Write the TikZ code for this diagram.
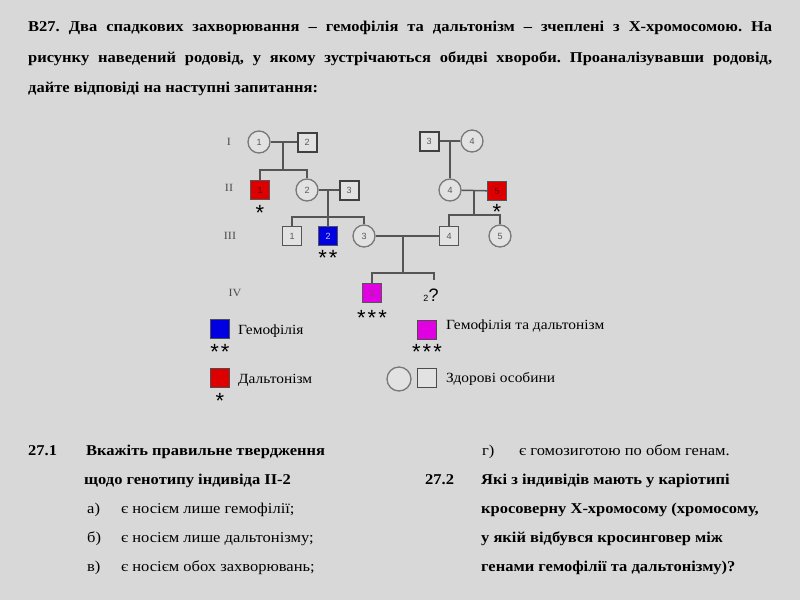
\documentclass[tikz,border=0pt]{standalone}
\usepackage{fontspec}
\setmainfont[FakeStretch=1.1]{Liberation Serif}
\newfontfamily\numfont{Liberation Sans}
\frenchspacing

\definecolor{bggray}{RGB}{216,216,216}
\definecolor{boxgray}{RGB}{226,226,226}
\definecolor{linegray}{RGB}{85,85,85}
\definecolor{circgray}{RGB}{120,120,120}
\definecolor{hemored}{RGB}{222,0,0}
\definecolor{hemoblue}{RGB}{0,0,225}
\definecolor{hemomag}{RGB}{225,0,225}

\tikzset{
  sq/.style={draw=linegray, fill=boxgray, line width=1pt, minimum size=19pt,
    inner sep=0pt, text=black!65, font=\numfont\fontsize{9}{9}\selectfont},
  sqthick/.style={sq, line width=2pt, draw=black!75},
  circ/.style={circle, draw=circgray, fill=boxgray, line width=1.3pt,
    minimum size=22pt, inner sep=0pt, text=black!65,
    font=\numfont\fontsize{9}{9}\selectfont},
  link/.style={draw=linegray, line width=1.5pt},
  genlbl/.style={font=\fontsize{11}{11}\selectfont, text=black!70},
  starlbl/.style={anchor=base, inner sep=0pt, yshift=-10.5pt,
    font=\numfont\fontsize{22}{22}\selectfont},
  hd/.style={anchor=base west, inner sep=0pt,
    font=\bfseries\fontsize{15}{15}\selectfont},
  txt/.style={anchor=base west, inner sep=0pt, font=\fontsize{15}{15}\selectfont},
  txtb/.style={txt, font=\bfseries\fontsize{15}{15}\selectfont},
  leg/.style={anchor=base west, inner sep=0pt, font=\fontsize{14}{14}\selectfont},
}

\begin{document}
\begin{tikzpicture}[x=1pt, y=-1pt]
  \fill[bggray] (0,0) rectangle (800,600);
  \useasboundingbox (0,0) rectangle (800,600);

  % task text
  \node[hd] (title1) at (28,31) {\makebox[744pt][s]{B27. Два спадкових захворювання – гемофілія та дальтонізм – зчеплені з Х-хромосомою. На}};
  \node[hd] (title2) at (28,62) {\makebox[744pt][s]{рисунку наведений родовід, у якому зустрічаються обидві хвороби. Проаналізувавши родовід,}};
  \node[hd] (title3) at (28,92) {дайте відповіді на наступні запитання:};

  % generations
  \node[genlbl] (gI) at (229,142) {I};
  \node[genlbl] (gII) at (229,188) {II};
  \node[genlbl] (gIII) at (230,236) {III};
  \node[genlbl] (gIV) at (235,293) {IV};

  % left family
  \node[circ] (p11) at (259,142) {1};
  \node[sqthick] (p12) at (307,142) {2};
  \node[sq, fill=hemored, text=red!35!black] (p21) at (260,190) {1};
  \node[circ] (p22) at (307,190) {2};
  \node[sqthick] (p23) at (349,190) {3};

  % right family
  \node[sqthick] (p13) at (429,141) {3};
  \node[circ] (p14) at (472,141) {4};
  \node[circ] (p24) at (450,190) {4};
  \node[sq, fill=hemored, text=red!35!black] (p25) at (497,191) {5};

  % generation III
  \node[sq] (p31) at (292,236) {1};
  \node[sq, fill=hemoblue, text=white!80!blue] (p32) at (328,236) {2};
  \node[circ] (p33) at (364,236) {3};
  \node[sq] (p34) at (449,236) {4};
  \node[circ] (p35) at (500,236) {5};

  % generation IV
  \node[sq, fill=hemomag, text=magenta!40!black] (p41) at (372,293) {1};
  \node[anchor=base, inner sep=0pt] (p42) at (431,301)
    {{\numfont\fontsize{9}{9}\selectfont 2}{\numfont\fontsize{18}{18}\selectfont ?}};
  \coordinate (c42) at (434,280);

  % marriages and sibships
  \coordinate (m1) at (283,142);
  \coordinate (s1) at (283,170);
  \draw[link] (p11) -- (p12);
  \draw[link] (m1) -- (s1);
  \draw[link] (p21.north) |- (s1) -| (p22.north);

  \coordinate (m2) at (328,190);
  \coordinate (s2) at (328,217);
  \draw[link] (p22) -- (p23);
  \draw[link] (m2) -- (p32.north);
  \draw[link] (p31.north) |- (s2) -| (p33.north);

  \coordinate (m3) at (450,141);
  \draw[link] (p13) -- (p14);
  \draw[link] (m3) -- (p24.north);

  \coordinate (m4) at (474,190);
  \coordinate (s4) at (474,215);
  \draw[link] (p24) -- (p25);
  \draw[link] (m4) -- (s4);
  \draw[link] (p34.north) |- (s4) -| (p35.north);

  \coordinate (m5) at (403,236);
  \coordinate (s5) at (403,273);
  \draw[link] (p33) -- (p34);
  \draw[link] (m5) -- (s5);
  \draw[link] (p41.north) |- (s5) -| (c42);

  % stars
  \node[starlbl] (st21) at (260,210) {*};
  \node[starlbl] (st25) at (497,209) {*};
  \node[starlbl] (st32) at (328,255) {*\kern2pt*};
  \node[starlbl] (st41) at (372,315) {*\kern2pt*\kern2pt*};

  % legend
  \node[sq, fill=hemoblue, draw=black!70] (lgb) at (220,329) {};
  \node[leg] (lgbt) at (238,334) {Гемофілія};
  \node[starlbl] (lgbs) at (220,349) {*\kern2pt*};
  \node[sq, fill=hemored, draw=black!70] (lgr) at (220,378) {};
  \node[leg] (lgrt) at (238,383) {Дальтонізм};
  \node[starlbl] (lgrs) at (220,398) {*};
  \node[sq, fill=hemomag, draw=black!70] (lgm) at (427,330) {};
  \node[leg] (lgmt) at (446,329) {Гемофілія та дальтонізм};
  \node[starlbl] (lgms) at (427,349) {*\kern2pt*\kern2pt*};
  \node[circ, minimum size=24pt] (lgc) at (399,379) {};
  \node[sq, draw=black!70] (lgs) at (427,378) {};
  \node[leg] (lgst) at (446,382) {Здорові особини};

  % questions
  \node[txtb] (q1n) at (28,455) {27.1};
  \node[txtb] (q1a) at (86,455) {Вкажіть правильне твердження};
  \node[txtb] (q1b) at (84,484) {щодо генотипу індивіда II-2};
  \node[txt] (o1l) at (87,513) {а)};
  \node[txt] (o1t) at (121,513) {є носієм лише гемофілії;};
  \node[txt] (o2l) at (87,542) {б)};
  \node[txt] (o2t) at (121,542) {є носієм лише дальтонізму;};
  \node[txt] (o3l) at (87,571) {в)};
  \node[txt] (o3t) at (121,571) {є носієм обох захворювань;};
  \node[txt] (o4l) at (482,455) {г)};
  \node[txt] (o4t) at (519,455) {є гомозиготою по обом генам.};
  \node[txtb] (q2n) at (425,484) {27.2};
  \node[txtb] (q2a) at (481,484) {Які з індивідів мають у каріотипі};
  \node[txtb] (q2b) at (481,513) {кросоверну Х-хромосому (хромосому,};
  \node[txtb] (q2c) at (481,542) {у якій відбувся кросинговер між};
  \node[txtb] (q2d) at (481,571) {генами гемофілії та дальтонізму)?};
\end{tikzpicture}
\end{document}
